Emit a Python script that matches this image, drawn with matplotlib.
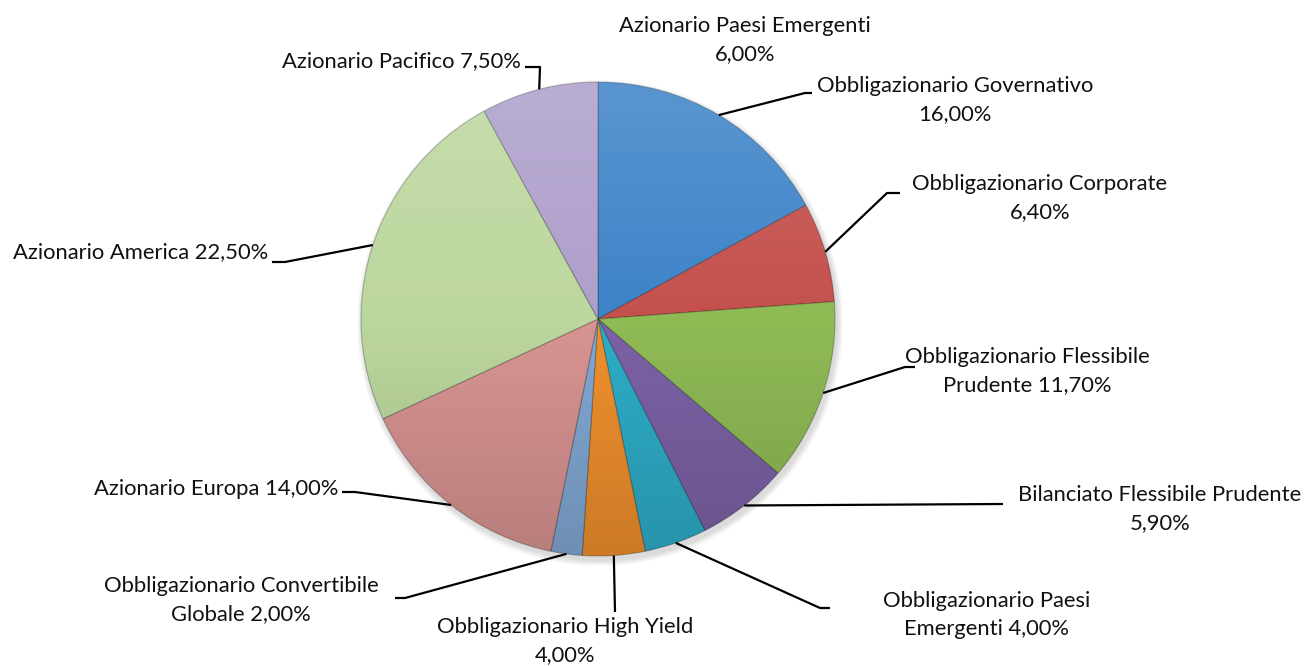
import numpy as np
import matplotlib
matplotlib.use("Agg")
import matplotlib.pyplot as plt
from matplotlib.patches import Circle

# slices, clockwise from 12 o'clock
labels = [
    "Obbligazionario Governativo\n16,00%",
    "Obbligazionario Corporate\n6,40%",
    "Obbligazionario Flessibile\nPrudente 11,70%",
    "Bilanciato Flessibile Prudente\n5,90%",
    "Obbligazionario Paesi\nEmergenti 4,00%",
    "Obbligazionario High Yield\n4,00%",
    "Obbligazionario Convertibile\nGlobale 2,00%",
    "Azionario Europa 14,00%",
    "Azionario America 22,50%",
    "Azionario Pacifico 7,50%",
]
values = [16.00, 6.40, 11.70, 5.90, 4.00, 4.00, 2.00, 14.00, 22.50, 7.50]
colors = ["#3d83c8", "#c4504c", "#8fbb55", "#7c62a6", "#2eadc8",
          "#f0902e", "#82a8d4", "#d89492", "#bcd79e", "#ae9fcb"]
# label shown without a slice
extra_label = "Azionario Paesi Emergenti\n6,00%"

# layout (pixels from top-left)
W, H = 1315, 666
cx, cy, R = 598, 319, 237
elbows = [(805, 93), (887, 193), (905, 367), (1003, 504), (820, 608),
          (615, 612), (405, 598), (355, 492), (285, 262), (540, 67)]
ends = [(812, 93), (900, 193), (915, 367), (1003, 504), (830, 608),
        (615, 612), (395, 598), (342, 492), (272, 262), (525, 67)]
text_pos = [(955, 100, "center"), (1040, 198, "center"), (1027, 371, "center"),
            (1160, 509, "center"), (987, 615, "center"), (565, 641, "center"),
            (241, 600, "center"), (338, 489, "right"), (268, 252, "right"),
            (521, 61, "right")]

plt.rcParams['font.family'] = ['Lato', 'DejaVu Sans']
fs = 15.8

fig = plt.figure(figsize=(W / 100, H / 100), dpi=100)
ax = fig.add_axes([0, 0, 1, 1])
ax.set_xlim(0, W)
ax.set_ylim(H, 0)
ax.set_aspect("equal")
ax.axis("off")

# soft shadow
for k in range(6):
    ax.add_patch(Circle((cx + 2, cy + 4), R + 1 + k, color="black",
                        alpha=0.025, lw=0, zorder=0))

wedges, _ = ax.pie(values, colors=colors, startangle=-90, counterclock=True,
                   center=(cx, cy), radius=R, frame=True,
                   wedgeprops=dict(edgecolor=(0, 0, 0, 0.25), linewidth=0.8))

# light-to-dark vertical shading over the pie
grad = np.linspace(0, 1, 256)[:, None]
img = np.zeros((256, 1, 4))
img[..., :3] = np.where(grad < 0.5, 1.0, 0.0)[..., None] * np.ones(3)
img[..., 3] = np.abs(grad - 0.5) * 0.3
im = ax.imshow(img, extent=(cx - R, cx + R, cy + R, cy - R), aspect="auto",
               interpolation="bilinear", zorder=3)
im.set_clip_path(Circle((cx, cy), R, transform=ax.transData))

for w, lab, el, en, (tx, ty, ha) in zip(wedges, labels, elbows, ends, text_pos):
    mid = np.deg2rad((w.theta1 + w.theta2) / 2)
    sx, sy = cx + R * np.cos(mid), cy + R * np.sin(mid)
    ax.plot([sx, el[0], en[0]], [sy, el[1], en[1]], color="black", lw=1.6,
            zorder=4, solid_capstyle="butt")
    ax.text(tx, ty, lab, ha=ha, va="center", fontsize=fs, linespacing=1.5,
            color="#111111")

ax.text(745, 40, extra_label, ha="center", va="center", fontsize=fs,
        linespacing=1.5, color="#111111")

ax.set_xlim(0, W)
ax.set_ylim(H, 0)
fig.savefig("out.png", dpi=100)
